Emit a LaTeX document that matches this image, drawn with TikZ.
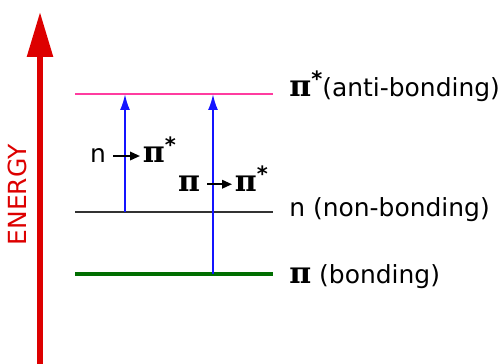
\documentclass[tikz,border=0pt]{standalone}
\usepackage{fontspec}
\setmainfont{DejaVu Sans}
\newfontfamily\pifont{DejaVu Serif}[Scale=1.2]
\usetikzlibrary{arrows.meta}
\definecolor{enred}{RGB}{221,0,0}
\definecolor{levpink}{RGB}{255,60,160}
\definecolor{levgray}{RGB}{50,50,50}
\definecolor{levgreen}{RGB}{0,110,0}
\definecolor{trblue}{RGB}{20,20,255}
\newcommand{\pisym}{{\pifont\bfseries π}}
\newcommand{\starsym}{\raisebox{0.8ex}{\fontsize{12}{12}\selectfont\bfseries *}}
\begin{document}
\begin{tikzpicture}[x=0.02cm, y=-0.02cm, font=\fontsize{14.2}{16}\selectfont,
  txt/.style={inner sep=1.5pt, anchor=base},
  lvl/.style={anchor=base west, inner sep=0pt},
  transarrow/.style={trblue, line width=1.2pt, -{Latex[length=0.32cm,width=0.2cm]}},
  lblarrow/.style={line width=1.1pt, -{Triangle[length=0.2cm,width=0.17cm]}, shorten <=2.5pt}]
\useasboundingbox (0,0) rectangle (503,364);
\begin{scope}
  % energy axis
  \coordinate (ax0) at (40,364);
  \coordinate (ax1) at (40,12);
  \draw[enred, line width=3.2pt, -{Triangle[length=0.9cm,width=0.5cm]}] (ax0) -- (ax1);
  \node[enred, rotate=90] (energy) at (17,195) {ENERGY};

  % levels
  \foreach \y/\c/\w in {94/levpink/1.2pt, 212/levgray/1.2pt, 274/levgreen/1.8pt}
    \draw[\c, line width=\w] (75,\y) -- (273,\y);

  \node[lvl] (pistar) at (289,97) {\pisym\starsym(anti-bonding)};
  \node[lvl] (nonb) at (289,217) {n (non-bonding)};
  \node[lvl] (bond) at (289,283) {\pisym\ (bonding)};

  % transitions
  \coordinate (nlo) at (125,212);
  \coordinate (nhi) at (125,94);
  \coordinate (plo) at (213,274);
  \coordinate (phi) at (213,94);
  \draw[transarrow] (nlo) -- (nhi);
  \draw[transarrow] (plo) -- (phi);

  % transition labels
  \node[txt] (nsrc) at (98,163) {n};
  \node[txt, anchor=base west] (ntgt) at (140,163) {\pisym\starsym};
  \draw[lblarrow] (nsrc.east) -- (nsrc.east -| ntgt.west);

  \node[txt] (psrc) at (189,192) {\pisym};
  \node[txt, anchor=base west] (ptgt) at (232,192) {\pisym\starsym};
  \draw[lblarrow] (psrc.east) -- (psrc.east -| ptgt.west);
\end{scope}
\end{tikzpicture}
\end{document}
